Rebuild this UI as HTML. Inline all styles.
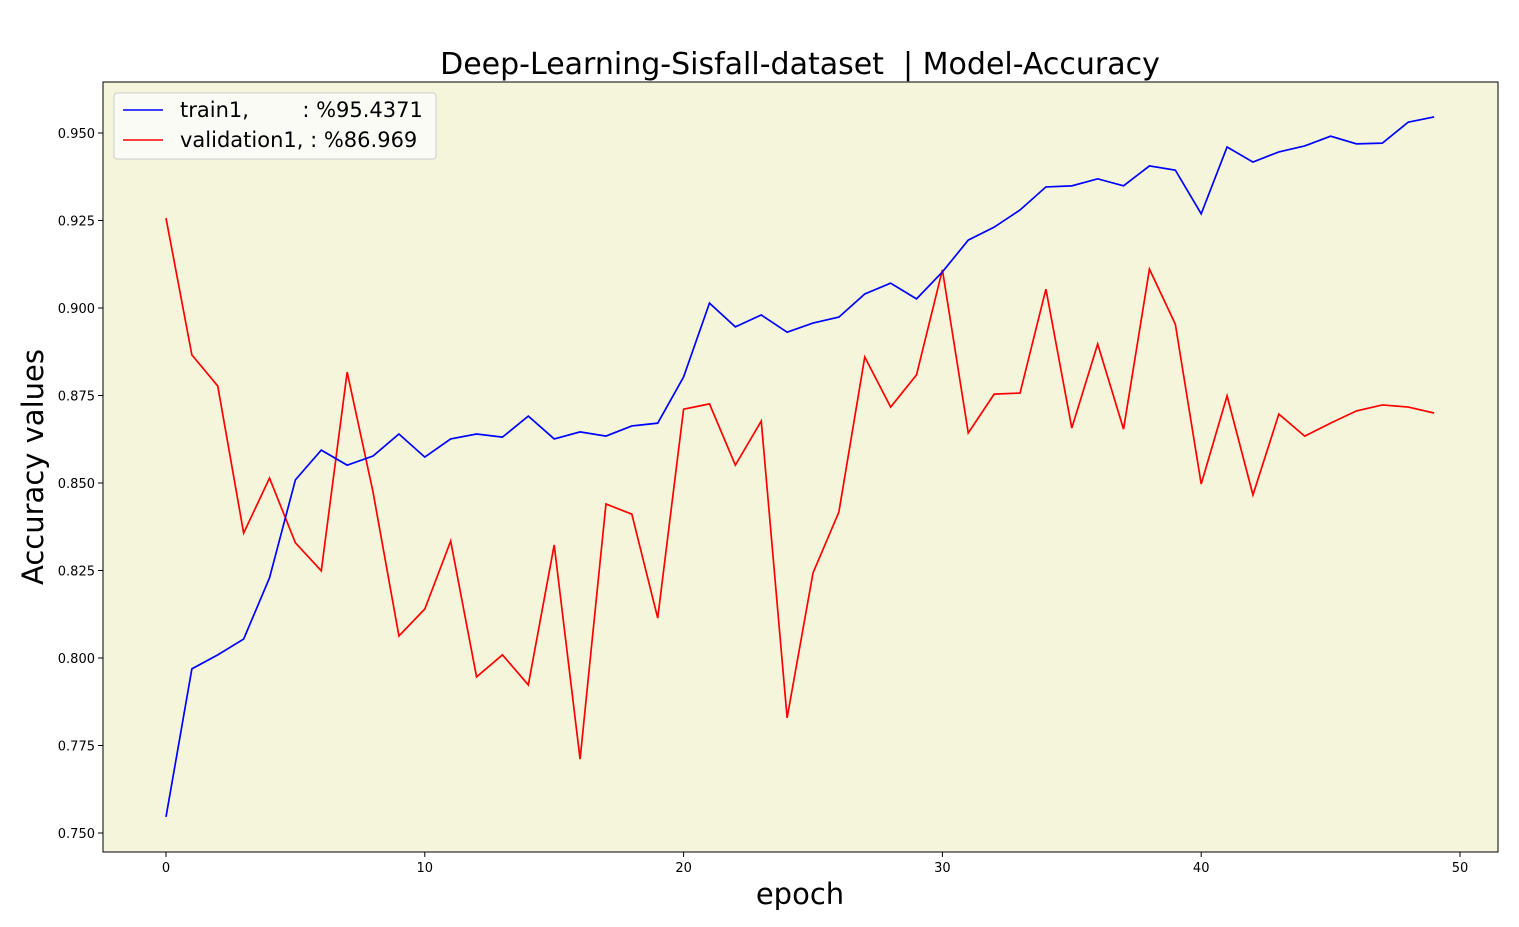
<!DOCTYPE html>
<html><head><meta charset="utf-8"><style>
body{margin:0;background:#fff;font-family:"DejaVu Sans","Liberation Sans",sans-serif;}
svg text{font-family:"DejaVu Sans","Liberation Sans",sans-serif;white-space:pre;}
</style></head><body>
<svg id="chart" width="1519" height="923" xmlns="http://www.w3.org/2000/svg">
<rect x="0" y="0" width="1519" height="923" fill="#fff"/>
<rect x="103" y="82" width="1395" height="770" fill="#f5f5dc" stroke="#000" stroke-width="1"/>
<text x="800" y="74" font-size="30" text-anchor="middle" xml:space="preserve">Deep-Learning-Sisfall-dataset  | Model-Accuracy</text>
<text x="800" y="904" font-size="29" text-anchor="middle">epoch</text>
<text transform="translate(43,467) rotate(-90)" font-size="29" text-anchor="middle">Accuracy values</text>
<g id="ticks"></g>
<g id="series"></g>
<g>
<rect x="114" y="93" width="322" height="66" rx="3" fill="#fbfbf6" stroke="#ccc"/>
<line x1="123" y1="110" x2="163" y2="110" stroke="#0000ff" stroke-width="1.6"/>
<text x="180" y="117" font-size="21" xml:space="preserve">train1,        : %95.4371</text>
<line x1="123" y1="140" x2="163" y2="140" stroke="#ff0000" stroke-width="1.6"/>
<text x="180" y="147" font-size="21">validation1, : %86.969</text>
</g>
</svg>
<script>
const epochs=[...Array(50).keys()];
const train=[0.7546,0.7969,0.8009,0.8054,0.8229,0.8509,0.8594,0.8551,0.8577,0.8640,0.8574,0.8626,0.8640,0.8631,0.8691,0.8626,0.8646,0.8634,0.8663,0.8671,0.8803,0.9014,0.8946,0.8980,0.8931,0.8957,0.8974,0.9040,0.9071,0.9026,0.9103,0.9194,0.9231,0.9280,0.9346,0.9349,0.9369,0.9349,0.9406,0.9394,0.9269,0.9460,0.9417,0.9446,0.9463,0.9491,0.9469,0.9471,0.9531,0.9546];
const validation=[0.9257,0.8866,0.8777,0.8357,0.8514,0.8329,0.8249,0.8817,0.8474,0.8063,0.8140,0.8334,0.7946,0.8009,0.7923,0.8323,0.7711,0.8440,0.8411,0.8114,0.8711,0.8726,0.8551,0.8677,0.7829,0.8243,0.8417,0.8860,0.8717,0.8809,0.9109,0.8643,0.8754,0.8757,0.9054,0.8657,0.8897,0.8654,0.9111,0.8954,0.8497,0.8749,0.8466,0.8697,0.8634,0.8671,0.8706,0.8723,0.8717,0.8700];
const xTicks=[0,10,20,30,40,50];
const yTicks=[0.750,0.775,0.800,0.825,0.850,0.875,0.900,0.925,0.950];
const NS="http://www.w3.org/2000/svg";
function xs(v){return 166+v*(1460-166)/50;}
function ys(v){return 833-(v-0.75)*3500;}
const tg=document.getElementById('ticks');
function mk(tag,attrs,parent){const e=document.createElementNS(NS,tag);for(const k in attrs)e.setAttribute(k,attrs[k]);parent.appendChild(e);return e;}
xTicks.forEach(t=>{
  const l=mk('line',{x1:xs(t),x2:xs(t),y1:852,y2:857,stroke:'#000'},tg);
  
  
  const tx=mk('text',{x:xs(t),y:872,'font-size':13,'text-anchor':'middle'},tg);
  tx.textContent=t;
  
  
});
yTicks.forEach(t=>{
  const l=mk('line',{x1:98,x2:103,y1:ys(t),y2:ys(t),stroke:'#000'},tg);
  
  
  const tx=mk('text',{x:95,y:ys(t)+5,'font-size':13,'text-anchor':'end'},tg);
  tx.textContent=t.toFixed(3);
  
  
});
const sg=document.getElementById('series');
function line(data,color,name){
  const p=mk('polyline',{points:data.map((v,i)=>xs(epochs[i])+','+ys(v)).join(' '),fill:'none',stroke:color,'stroke-width':1.7},sg);
  
  
}
line(validation,'#ff0000','validation-line');
line(train,'#0000ff','train-line');
</script>
</body></html>
